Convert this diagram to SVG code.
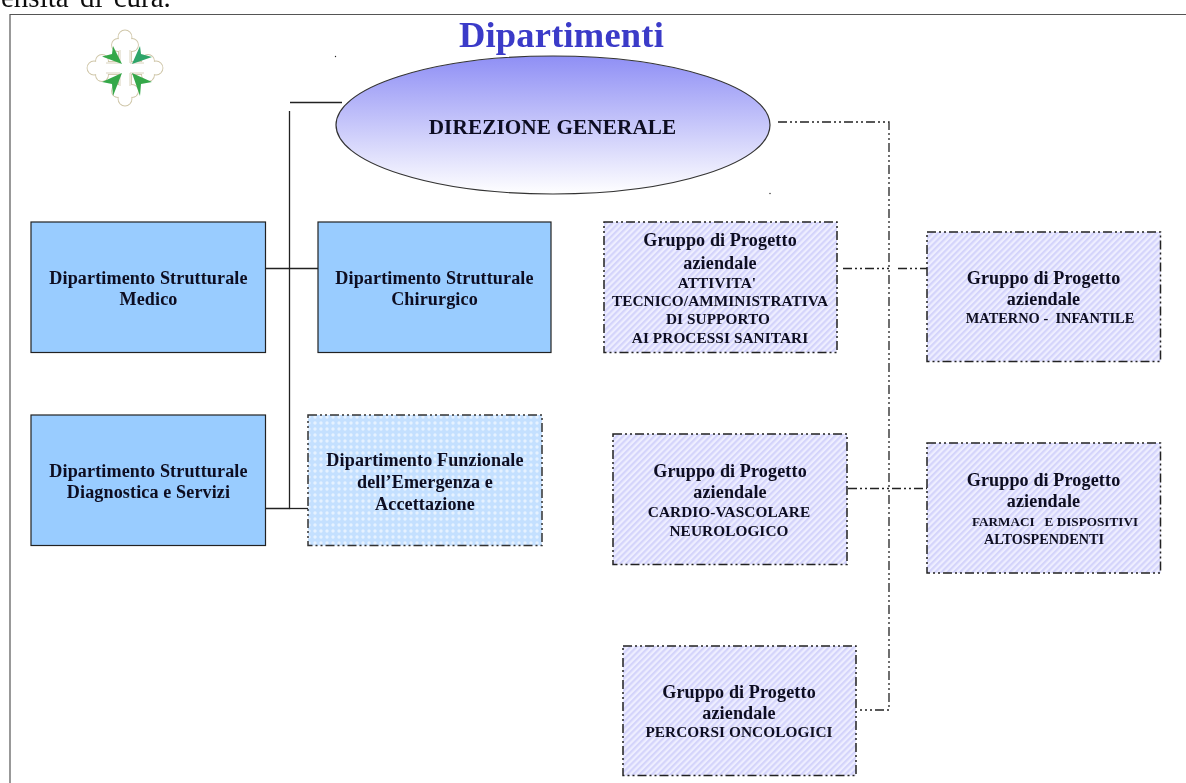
<svg xmlns="http://www.w3.org/2000/svg" width="1186" height="783" viewBox="0 0 1186 783">
<style>
text{font-family:"Liberation Serif","Times New Roman",serif;text-anchor:middle;fill:#0d0d20;font-weight:bold;filter:url(#soft)}
.h{font-size:18.100px;letter-spacing:.12px}
.s{font-size:15.300px;letter-spacing:.08px}
.solid{fill:#99ccff;stroke:#222;stroke-width:1.2}
.grp{fill:url(#hatch);stroke:#222;stroke-width:1.5;stroke-dasharray:9 3 2 3 2 3}
.fun{fill:url(#dots);stroke:#333;stroke-width:1.5;stroke-dasharray:9 3 2 3 2 3}
.sl{fill:none;stroke:#222;stroke-width:1.3}
.dl{fill:none;stroke:#222;stroke-width:1.3;stroke-dasharray:9 3 2 3 2 3}
</style>
<defs>
<filter id="soft" x="-5%" y="-20%" width="110%" height="140%"><feGaussianBlur stdDeviation="0.3"/></filter>
<filter id="softer" x="-5%" y="-5%" width="110%" height="110%"><feGaussianBlur stdDeviation="0.5"/></filter>
<pattern id="hatch" width="4.4" height="4.4" patternUnits="userSpaceOnUse" patternTransform="rotate(-45)">
<rect width="4.4" height="4.4" fill="#eeeeff"/><rect width="4.4" height="2.2" fill="#d4d4fb"/>
</pattern>
<pattern id="dots" width="6" height="6" patternUnits="userSpaceOnUse">
<rect width="6" height="6" fill="#c4e0ff"/><circle cx="3" cy="3" r="1.7" fill="#e6f2ff"/>
</pattern>
<linearGradient id="ell" x1="0" y1="0" x2="0" y2="1">
<stop offset="0" stop-color="#8f8ff5"/><stop offset="1" stop-color="#ffffff"/>
</linearGradient>
<g id="arm">
<circle cx="125" cy="37" r="6.500"/>
<circle cx="118" cy="45" r="6"/>
<circle cx="132" cy="45" r="6"/>
<rect x="119" y="38" width="12" height="30"/>
</g>
</defs>
<rect width="1186" height="783" fill="#fff"/>
<text x="1" y="7" style="font-size:29px;font-weight:normal;text-anchor:start;fill:#111;word-spacing:4px">ensità di cura.</text>
<path d="M10 783V14.500H1186" fill="none" stroke="#555" stroke-width="1.2"/>
<g id="logo" filter="url(#softer)">
<g fill="#fff" stroke="#cfc6a8" stroke-width="1.800">
<use href="#arm"/>
<use href="#arm" transform="rotate(90 125 68)"/>
<use href="#arm" transform="rotate(180 125 68)"/>
<use href="#arm" transform="rotate(270 125 68)"/>
</g>
<g fill="#fff">
<use href="#arm"/>
<use href="#arm" transform="rotate(90 125 68)"/>
<use href="#arm" transform="rotate(180 125 68)"/>
<use href="#arm" transform="rotate(270 125 68)"/>
</g>
<path d="M120 50V63H106M130 50V63H144M120 86V73H106M130 86V73H144" fill="none" stroke="#d8d2bc" stroke-width="1"/>
<g fill="#35a84a">
<path d="M113 46L122 64L102 56.500L112 54z"/>
<path d="M140 46L132 64L152 57L141 54z" fill="#2fa56a"/>
<path d="M113 96L122 73L102 82L112 84z"/>
<path d="M140 96L132 73L152 82L141 84z"/>
</g>
</g>
<g id="connectors">
<path class="sl" d="M290 102.500H342"/>
<path class="sl" d="M289.500 111V508.500H262"/>
<path class="sl" d="M264 268.500H318"/>
<path class="sl" d="M289.500 508.500H308"/>
<path class="dl" d="M778 122H889V710H860"/>
<path class="dl" d="M843 268.500H889M898 268.500H927"/>
<path class="dl" d="M848 488.500H927"/>
</g>
<g id="direzione">
<ellipse cx="553" cy="125" rx="217" ry="69" fill="url(#ell)" stroke="#333" stroke-width="1.2"/>
<text x="552.500" y="134" style="font-size:21.200px;letter-spacing:.12px">DIREZIONE GENERALE</text>
</g>
<g id="title"><text x="561.500" y="47" style="font-size:36.500px;fill:#3a3ac8;letter-spacing:.2px">Dipartimenti</text></g>
<g id="medico">
<rect class="solid" x="31" y="222" width="234.500" height="130.500"/>
<text class="h" x="148.500" y="284">Dipartimento Strutturale</text>
<text class="h" x="148.500" y="305">Medico</text>
</g>
<g id="chirurgico">
<rect class="solid" x="318" y="222" width="233" height="130.500"/>
<text class="h" x="434.500" y="284">Dipartimento Strutturale</text>
<text class="h" x="434.500" y="305">Chirurgico</text>
</g>
<g id="diagnostica">
<rect class="solid" x="31" y="415" width="234.500" height="130.500"/>
<text class="h" x="148.500" y="477">Dipartimento Strutturale</text>
<text class="h" x="148.500" y="498">Diagnostica e Servizi</text>
</g>
<g id="funzionale">
<rect class="fun" x="308" y="415" width="234" height="130.500"/>
<text class="h" x="425" y="466">Dipartimento Funzionale</text>
<text class="h" x="425" y="488">dell’Emergenza e</text>
<text class="h" x="425" y="510">Accettazione</text>
</g>
<g id="attivita">
<rect class="grp" x="604" y="222" width="233" height="130.500"/>
<text class="h" x="720" y="246">Gruppo di Progetto</text>
<text class="h" x="720" y="269">aziendale</text>
<text class="s" x="717" y="288">ATTIVITA'</text>
<text class="s" x="720" y="306">TECNICO/AMMINISTRATIVA</text>
<text class="s" x="718" y="324">DI SUPPORTO</text>
<text class="s" x="720" y="343">AI PROCESSI SANITARI</text>
</g>
<g id="materno">
<rect class="grp" x="927" y="232" width="233.500" height="129.500"/>
<text class="h" x="1043.500" y="284">Gruppo di Progetto</text>
<text class="h" x="1043.500" y="305">aziendale</text>
<text x="1050" y="323" xml:space="preserve" style="font-size:14.400px">MATERNO -  INFANTILE</text>
</g>
<g id="cardio">
<rect class="grp" x="613" y="434" width="234" height="130.500"/>
<text class="h" x="730" y="477">Gruppo di Progetto</text>
<text class="h" x="730" y="498">aziendale</text>
<text class="s" x="729" y="517">CARDIO-VASCOLARE</text>
<text class="s" x="729" y="536">NEUROLOGICO</text>
</g>
<g id="farmaci">
<rect class="grp" x="927" y="443" width="233.500" height="130"/>
<text class="h" x="1043.500" y="486">Gruppo di Progetto</text>
<text class="h" x="1043.500" y="507">aziendale</text>
<text x="1055" y="526" xml:space="preserve" style="font-size:13.200px">FARMACI   E DISPOSITIVI</text>
<text x="1044" y="544" style="font-size:14.200px">ALTOSPENDENTI</text>
</g>
<g id="oncologici">
<rect class="grp" x="623" y="646" width="233" height="129.500"/>
<text class="h" x="739" y="698">Gruppo di Progetto</text>
<text class="h" x="739" y="719">aziendale</text>
<text class="s" x="739" y="737">PERCORSI ONCOLOGICI</text>
</g>
<circle cx="335.500" cy="56.500" r="0.700" fill="#222"/>
<circle cx="770" cy="193.500" r="0.700" fill="#222"/>
</svg>
